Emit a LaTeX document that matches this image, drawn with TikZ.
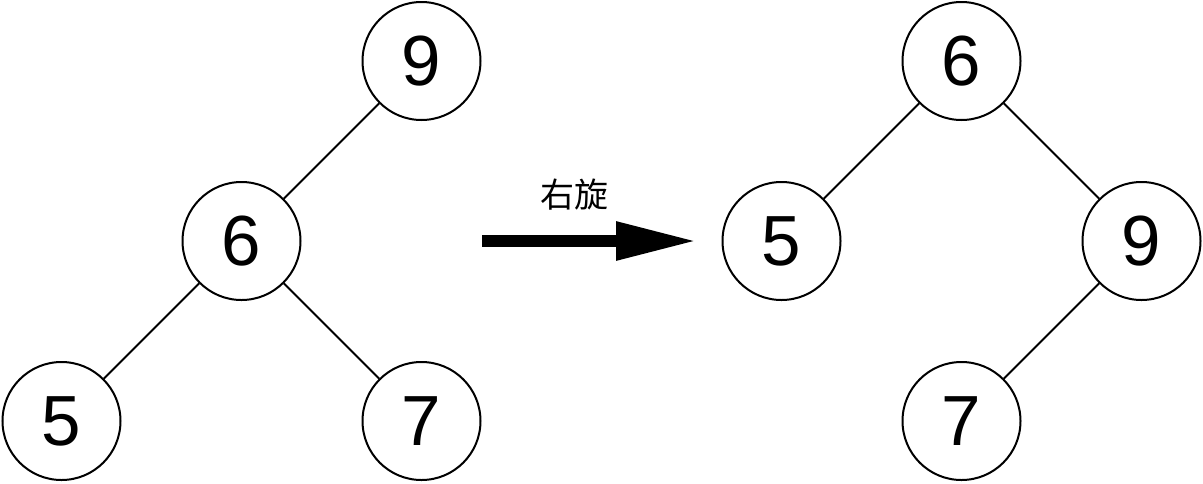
\documentclass[tikz,border=0pt]{standalone}
\usepackage{fontspec}
\usetikzlibrary{arrows.meta}
\setmainfont{Liberation Sans}
\newfontfamily\cjk{Noto Sans CJK SC}
\begin{document}
\begin{tikzpicture}[x=1pt,y=-1pt,
  tnode/.style={circle,draw,line width=2pt,minimum size=118pt,inner sep=0pt,font=\fontsize{71}{71}\selectfont},
  edge/.style={line width=2pt},
  bigarrow/.style={line width=12pt,-{Triangle[length=81pt,width=36pt]}}]
\useasboundingbox (0,0) rectangle (1203,483);
% left tree
\node[tnode] (L9) at (421.5,61) {9};
\node[tnode] (L6) at (241.5,241) {6};
\node[tnode] (L5) at (61.5,421) {5};
\node[tnode] (L7) at (421.5,421) {7};
\draw[edge] (L9) -- (L6);
\draw[edge] (L6) -- (L5);
\draw[edge] (L6) -- (L7);
% right tree
\node[tnode] (R6) at (961.5,61) {6};
\node[tnode] (R5) at (781.5,241) {5};
\node[tnode] (R9) at (1141.5,241) {9};
\node[tnode] (R7) at (961.5,421) {7};
\draw[edge] (R6) -- (R5);
\draw[edge] (R6) -- (R9);
\draw[edge] (R9) -- (R7);
% arrow
\coordinate (A0) at (482,241);
\coordinate (A2) at (697,241);
\draw[bigarrow] (A0) -- (A2);
\node[font=\cjk\fontsize{34}{34}\selectfont] (lbl) at (574,195) {右旋};
\end{tikzpicture}
\end{document}
